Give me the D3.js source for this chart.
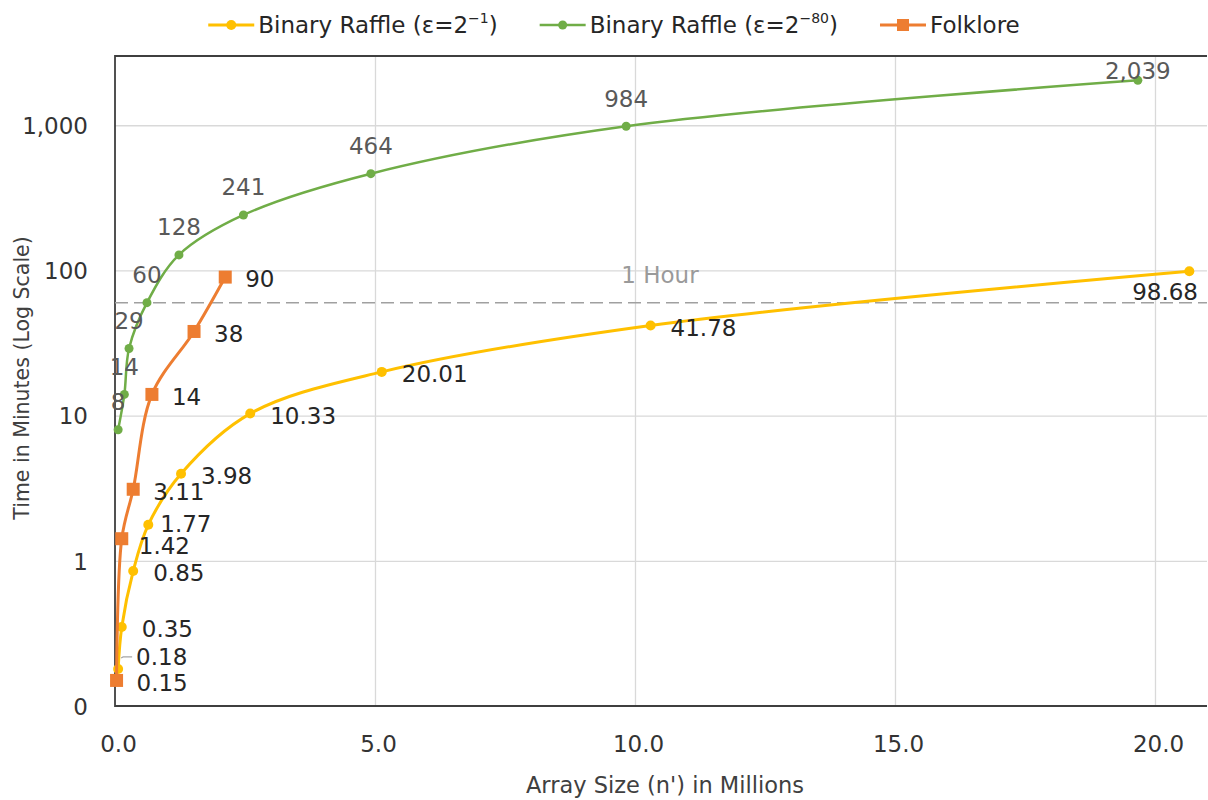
<!DOCTYPE html>
<html>
<head>
<meta charset="utf-8">
<script src="https://cdn.jsdelivr.net/npm/d3@7"></script>
<style>
  html, body { margin: 0; padding: 0; background: #ffffff; }
  svg { display: block; }
  text { font-family: "DejaVu Sans", "Noto Sans", sans-serif; }
</style>
</head>
<body>
<svg id="chart" width="1208" height="800"></svg>
<script>
// Array size (millions) and running time (minutes) for each method
const sizesRaffleFast   = [0.06, 0.13, 0.35, 0.64, 1.27, 2.60, 5.13, 10.30, 20.66];
const minutesRaffleFast = [0.18, 0.35, 0.85, 1.77, 3.98, 10.33, 20.01, 41.78, 98.68];

const sizesRaffleSecure   = [0.06, 0.18, 0.27, 0.615, 1.23, 2.47, 4.92, 9.83, 19.67];
const minutesRaffleSecure = [8, 14, 29, 60, 128, 241, 464, 984, 2039];

const sizesFolklore   = [0.03, 0.13, 0.35, 0.71, 1.52, 2.12];
const minutesFolklore = [0.15, 1.42, 3.11, 14, 38, 90];

const hourMinutes = 60;
const hourLabel = "1 Hour";

const xTicks = [0, 5, 10, 15, 20];
const yTicks = [0.1, 1, 10, 100, 1000];

const xTitle = "Array Size (n') in Millions";
const yTitle = "Time in Minutes (Log Scale)";

const series = [
  { key: "fast",   name: "Binary Raffle (ε=2", sup: "−1", close: ")", xs: sizesRaffleFast,   ys: minutesRaffleFast,
    color: "#FFC000", marker: "circle", r: 5,   width: 3,   labelColor: "#262626", place: "right" },
  { key: "secure", name: "Binary Raffle (ε=2", sup: "−80", close: ")", xs: sizesRaffleSecure, ys: minutesRaffleSecure,
    color: "#70AD47", marker: "circle", r: 4.5, width: 2.5, labelColor: "#595959", place: "above" },
  { key: "folk",   name: "Folklore", sup: "", close: "", xs: sizesFolklore, ys: minutesFolklore,
    color: "#ED7D31", marker: "square", r: 6.5, width: 3,   labelColor: "#262626", place: "right" }
];

// Hand-tuned label nudges where neighbouring labels would collide
const labelNudges = {
  fast: { 0: { dx: -2, dy: -14, leader: true }, 3: { dx: -8, dy: -3 } },
  folk: { 1: { dx: -3, dy: 5 } }
};

const svg = d3.select("#chart");
const plotLeft = 115, plotRight = 1207, plotTop = 56, plotBottom = 706;

const x = d3.scaleLinear().domain([0, 21]).range([plotLeft, plotRight]);
const y = d3.scaleLog().domain([0.1, 3000]).range([plotBottom, plotTop]);

const fmtY = d3.format(",.0f");
const fmtX = d3.format(".1f");
const labelSize = 23;

// Gridlines
const gridX = svg.append("g")
  .attr("transform", `translate(0,${plotBottom})`)
  .call(d3.axisBottom(x).tickValues(xTicks.filter(d => d > 0)).tickSize(-(plotBottom - plotTop)).tickFormat(""));
gridX.select(".domain").remove();
gridX.selectAll("line").attr("stroke", "#d9d9d9").attr("stroke-width", 1.3);

const gridY = svg.append("g")
  .attr("transform", `translate(${plotLeft},0)`)
  .call(d3.axisLeft(y).tickValues(yTicks.filter(d => d > 0.1)).tickSize(-(plotRight - plotLeft)).tickFormat(""));
gridY.select(".domain").remove();
gridY.selectAll("line").attr("stroke", "#d9d9d9").attr("stroke-width", 1.3);

// Tick labels
const axX = svg.append("g")
  .attr("transform", `translate(0,${plotBottom})`)
  .call(d3.axisBottom(x).tickValues(xTicks).tickSize(0).tickPadding(0).tickFormat(fmtX));
axX.select(".domain").remove();
axX.selectAll("text")
  .attr("y", 46).attr("dy", null).attr("dx", 3)
  .attr("font-size", labelSize).attr("fill", "#333")
  .style("font-family", "'DejaVu Sans', sans-serif");

const axY = svg.append("g")
  .attr("transform", `translate(${plotLeft},0)`)
  .call(d3.axisLeft(y).tickValues(yTicks).tickSize(0).tickPadding(0).tickFormat(fmtY));
axY.select(".domain").remove();
axY.selectAll("text")
  .attr("x", -27).attr("dy", "0.36em")
  .attr("font-size", labelSize).attr("fill", "#333")
  .style("font-family", "'DejaVu Sans', sans-serif");

// Plot frame: top, left and bottom edges
svg.append("path")
  .attr("d", `M${plotRight},${plotTop}H${plotLeft}V${plotBottom}H${plotRight}`)
  .attr("fill", "none").attr("stroke", "#3f3f3f").attr("stroke-width", 1.8);

// One-hour reference line
svg.append("line")
  .attr("x1", plotLeft).attr("x2", plotRight)
  .attr("y1", y(hourMinutes)).attr("y2", y(hourMinutes))
  .attr("stroke", "#a0a0a0").attr("stroke-width", 1.5).attr("stroke-dasharray", "13,6");
svg.append("text")
  .attr("x", 660).attr("y", y(hourMinutes) - 28 + 0.36 * labelSize)
  .attr("text-anchor", "middle").attr("font-size", labelSize).attr("fill", "#9a9a9a")
  .text(hourLabel);

// Series lines and markers
const line = d3.line().curve(d3.curveCatmullRom.alpha(0.5)).x(d => x(d[0])).y(d => y(d[1]));

series.forEach(s => {
  const pts = s.xs.map((v, i) => [v, s.ys[i]]);
  const g = svg.append("g");
  g.append("path").attr("d", line(pts))
    .attr("fill", "none").attr("stroke", s.color).attr("stroke-width", s.width)
    .attr("stroke-linejoin", "round");
  if (s.marker === "circle") {
    g.selectAll("circle").data(pts).join("circle")
      .attr("cx", d => x(d[0])).attr("cy", d => y(d[1])).attr("r", s.r).attr("fill", s.color);
  } else {
    g.selectAll("rect").data(pts).join("rect")
      .attr("x", d => x(d[0]) - s.r).attr("y", d => y(d[1]) - s.r)
      .attr("width", 2 * s.r).attr("height", 2 * s.r).attr("fill", s.color);
  }
});

// Data labels
const labelFmt = d3.format(",");
series.forEach(s => {
  const g = svg.append("g");
  s.xs.forEach((v, i) => {
    const px = x(v), py = y(s.ys[i]);
    const nudge = (labelNudges[s.key] || {})[i] || { dx: 0, dy: 0 };
    const t = g.append("text").attr("font-size", labelSize).attr("fill", s.labelColor)
      .text(labelFmt(s.ys[i]));
    const w = t.node().getComputedTextLength();
    if (s.place === "above") {
      let base = py - 28 + 0.36 * labelSize;
      const minBase = plotTop + 6 + 0.73 * labelSize;
      if (base < minBase) base = minBase;
      t.attr("text-anchor", "middle").attr("x", px).attr("y", base);
    } else if (px + 20 + w > plotRight) {
      // Not enough room on the right: set it below, kept inside the plot
      const endX = Math.min(px + w / 2, plotRight - 9);
      t.attr("text-anchor", "end").attr("x", endX).attr("y", py + 20 + 0.36 * labelSize);
    } else {
      const lx = px + 20 + nudge.dx, cy = py + 2 + nudge.dy;
      t.attr("text-anchor", "start").attr("x", lx).attr("y", cy + 0.36 * labelSize);
      if (nudge.leader) {
        g.append("polyline")
          .attr("points", `${px + 3},${py - 11} ${px + 5},${cy} ${lx - 4},${cy}`)
          .attr("fill", "none").attr("stroke", "#a6a6a6").attr("stroke-width", 1.2);
      }
    }
  });
});

// Axis titles
svg.append("text")
  .attr("x", 665).attr("y", 785 + 0.36 * 22)
  .attr("text-anchor", "middle").attr("font-size", 22.5).attr("fill", "#404040")
  .text(xTitle);
svg.append("text")
  .attr("transform", `translate(${22 + 0.36 * 20.5},378) rotate(-90)`)
  .attr("text-anchor", "middle").attr("font-size", 20.5).attr("fill", "#404040")
  .text(yTitle);

// Legend
const legend = svg.append("g");
const legendY = 25;
const items = [];
series.forEach(s => {
  const it = legend.append("g");
  it.append("line").attr("x1", 0).attr("x2", 46).attr("y1", legendY).attr("y2", legendY)
    .attr("stroke", s.color).attr("stroke-width", s.width);
  if (s.marker === "circle") {
    it.append("circle").attr("cx", 23).attr("cy", legendY).attr("r", s.r).attr("fill", s.color);
  } else {
    it.append("rect").attr("x", 23 - 6).attr("y", legendY - 6).attr("width", 12).attr("height", 12).attr("fill", s.color);
  }
  const t = it.append("text").attr("x", 50).attr("y", legendY + 0.36 * 23)
    .attr("font-size", 23).attr("fill", "#262626");
  t.append("tspan").text(s.name);
  if (s.sup) {
    t.append("tspan").attr("font-size", 14).attr("dy", -10).text(s.sup);
    t.append("tspan").attr("dy", 10).text(s.close);
  }
  const w = 50 + t.node().getComputedTextLength();
  items.push({ node: it, w });
});
const gap = 42;
const total = d3.sum(items, d => d.w) + gap * (items.length - 1);
let cx = 614 - total / 2;
items.forEach(d => {
  d.node.attr("transform", `translate(${cx},0)`);
  cx += d.w + gap;
});
</script>
</body>
</html>
